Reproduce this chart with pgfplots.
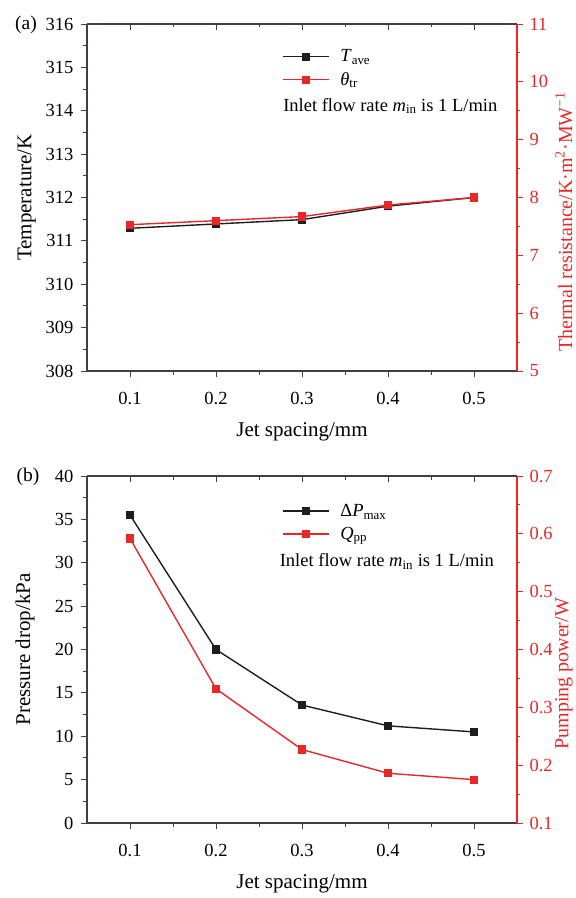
\documentclass[border=0pt]{standalone}
\usepackage{pgfplots}
\pgfplotsset{compat=1.18}
\usepackage{fontspec}
\setmainfont{Liberation Serif}
\definecolor{myred}{RGB}{232,40,40}
\definecolor{axgray}{RGB}{70,62,62}
\definecolor{dblack}{RGB}{30,30,30}

\tikzset{rlab/.style={font=\fontsize{20}{22}\selectfont, at={(axis description cs:1.109,0.43)}, anchor=center, text=myred}}

\pgfplotsset{
  base/.style={
    scale only axis, width=430pt, height=347pt,
    xmin=0.05, xmax=0.55,
    xtick={0.1,0.2,0.3,0.4,0.5},
    minor x tick num=1,
    minor y tick num=1,
    major tick length=6pt, minor tick length=3.5pt,
    /pgf/number format/assume math mode=true,
    tick label style={font=\fontsize{18.5}{21}\selectfont},
    label style={font=\fontsize{21}{24}\selectfont},
    xticklabel style={yshift=-12pt, /pgf/number format/fixed, /pgf/number format/precision=1, /pgf/number format/fixed zerofill},
    axis line style={axgray, line width=1.1pt},
    tick style={axgray, line width=0.9pt},
  },
  leg/.style={
    legend cell align=left,
    legend style={draw=none, fill=none, inner sep=0pt, anchor=north west,
      font=\fontsize{18.5}{21}\selectfont, row sep=5pt},
    legend image code/.code={\draw[mark repeat=2, mark phase=2] plot coordinates {(0pt,0pt) (23pt,0pt) (46pt,0pt)};},
  },
  blk/.style={dblack, line width=1.4pt, mark=square*, mark size=3.4pt, mark options={solid, fill=dblack}},
  rd/.style={myred, line width=1.4pt, mark=square*, mark size=3.4pt, mark options={solid, fill=myred}},
}

\begin{document}
\begin{tikzpicture}
% ================= (a) =================
\begin{axis}[base, leg, name=top,
  axis x line*=bottom, axis y line*=left, tick align=outside,
  ymin=308, ymax=316, ytick={308,309,310,311,312,313,314,315,316},
  yticklabel style={xshift=-4pt},
  xlabel={Jet spacing/mm}, ylabel={Temperature/K},
  xlabel style={at={(axis description cs:0.5,-0.175)}, anchor=center},
  ylabel style={at={(axis description cs:-0.14,0.5)}, anchor=center},
  legend style={at={(axis description cs:0.453,0.932)}},
]
\addplot[blk] coordinates {(0.1,311.29) (0.2,311.39) (0.3,311.49) (0.4,311.80) (0.5,312.0)};
\addlegendentry{\hspace{9pt}\textit{T}\textsubscript{ave}}
\addlegendimage{rd}
\addlegendentry{\hspace{9pt}\textit{θ}\textsubscript{tr}}
\node[anchor=west, font=\fontsize{18.5}{21}\selectfont, inner sep=0pt] at (rel axis cs:0.456,0.764) {Inlet flow rate \textit{m}\textsubscript{in} is 1 L/min};
\end{axis}
\begin{axis}[base, axis x line=none, axis y line*=right, tick align=outside,
  ymin=5, ymax=11, ytick={5,6,7,8,9,10,11},
  axis line style={myred, line width=1.1pt}, tick style={myred, line width=0.9pt},
  yticklabel style={text=myred, xshift=3pt},
  ylabel={Thermal resistance/K·m\textsuperscript{2}·MW\textsuperscript{−1}},
  ylabel style={rlab},
]
\addplot[rd] coordinates {(0.1,7.53) (0.2,7.60) (0.3,7.67) (0.4,7.87) (0.5,8.0)};
\end{axis}
\begin{axis}[base, axis x line*=top, axis y line=none, tick align=inside,
  xticklabels={}, ymin=0, ymax=1, ytick=\empty]
\end{axis}
\node[font=\fontsize{19.5}{22}\selectfont] at ([xshift=-61pt,yshift=-1pt]top.north west) {(a)};

% ================= (b) =================
\begin{axis}[base, leg, name=bot, at={(0,-452pt)},
  axis x line*=bottom, axis y line*=left, tick align=outside,
  ymin=0, ymax=40, ytick={0,5,10,15,20,25,30,35,40},
  yticklabel style={xshift=-4pt},
  xlabel={Jet spacing/mm}, ylabel={Pressure drop/kPa},
  xlabel style={at={(axis description cs:0.5,-0.175)}, anchor=center},
  ylabel style={at={(axis description cs:-0.144,0.5)}, anchor=center},
  legend style={at={(axis description cs:0.453,0.925)}},
]
\addplot[blk] coordinates {(0.1,35.5) (0.2,20.0) (0.3,13.6) (0.4,11.2) (0.5,10.5)};
\addlegendentry{\hspace{9pt}Δ\textit{P}\textsubscript{max}}
\addlegendimage{rd}
\addlegendentry{\hspace{9pt}\textit{Q}\textsubscript{pp}}
\node[anchor=west, font=\fontsize{18.5}{21}\selectfont, inner sep=0pt] at (rel axis cs:0.448,0.754) {Inlet flow rate \textit{m}\textsubscript{in} is 1 L/min};
\end{axis}
\begin{axis}[base, at={(0,-452pt)}, axis x line=none, axis y line*=right, tick align=outside,
  ymin=0.1, ymax=0.7, ytick={0.1,0.2,0.3,0.4,0.5,0.6,0.7},
  yticklabel style={text=myred, xshift=3pt, /pgf/number format/fixed, /pgf/number format/precision=1, /pgf/number format/fixed zerofill},
  axis line style={myred, line width=1.1pt}, tick style={myred, line width=0.9pt},
  ylabel={Pumping power/W},
  ylabel style={rlab},
]
\addplot[rd] coordinates {(0.1,0.592) (0.2,0.332) (0.3,0.227) (0.4,0.186) (0.5,0.175)};
\end{axis}
\begin{axis}[base, at={(0,-452pt)}, axis x line*=top, axis y line=none, tick align=inside,
  xticklabels={}, ymin=0, ymax=1, ytick=\empty]
\end{axis}
\node[font=\fontsize{19.5}{22}\selectfont] at ([xshift=-59pt,yshift=-1pt]bot.north west) {(b)};

\pgfresetboundingbox
\path (top.south west) ++(-87pt,371pt) rectangle ++(576pt,-898pt);
\end{tikzpicture}
\end{document}
